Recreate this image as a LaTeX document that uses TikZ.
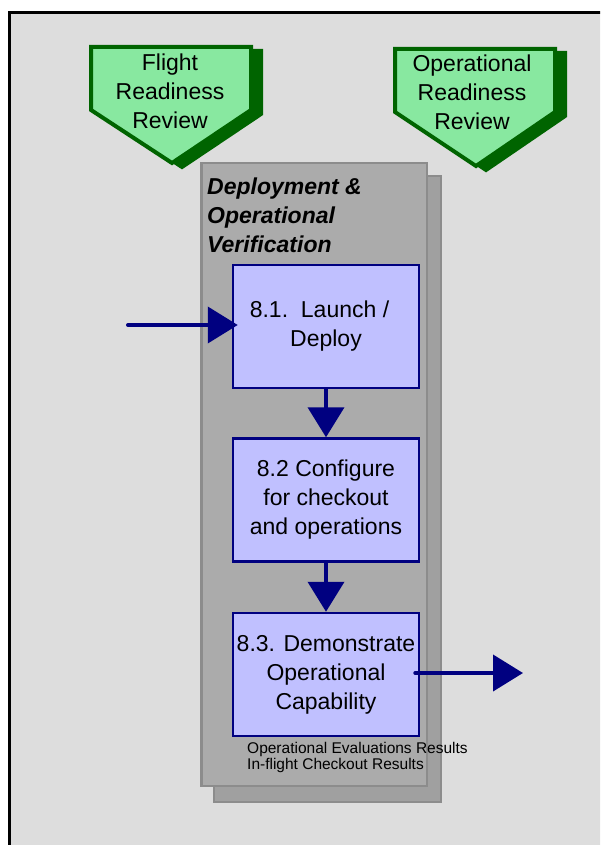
\documentclass[tikz,border=0pt]{standalone}
\usepackage{fontspec}
\setmainfont{Liberation Sans}
\usetikzlibrary{arrows.meta}

\definecolor{pagebg}{HTML}{DDDDDD}
\definecolor{panelgray}{HTML}{ABABAB}
\definecolor{panelshadow}{HTML}{A0A0A0}
\definecolor{paneledge}{HTML}{8C8C8C}
\definecolor{stepfill}{HTML}{C0C0FF}
\definecolor{navy}{HTML}{000080}
\definecolor{gatefill}{HTML}{88E8A0}
\definecolor{gateedge}{HTML}{006400}

\tikzset{
  gate/.style={draw=gateedge, fill=gatefill, line width=4pt, line join=miter},
  gateshadow/.style={draw=gateedge, fill=gateedge, line width=4pt, line join=miter},
  gatetext/.style={inner sep=0pt, align=center, font=\fontsize{23}{29}\selectfont},
  stepbox/.style={draw=navy, fill=stepfill, line width=2.5pt,
    minimum width=186pt, minimum height=123pt, inner sep=0pt,
    align=center, font=\fontsize{23}{29}\selectfont},
  flow/.style={draw=navy, line width=4pt, line cap=round,
    -{Triangle[length=30pt,width=36pt]}},
}

\begin{document}
\begin{tikzpicture}[x=1pt, y=-1pt]
  \useasboundingbox (0,0) rectangle (600,845);
  \clip (0,0) rectangle (600,845);
  \fill[white] (0,0) rectangle (600,845);

  % page frame
  \draw[line width=3pt, fill=pagebg] (9.5,12.5) rectangle (640,880);

  % review gates
  \draw[gateshadow] (101,51) -- (261,51) -- (261,114) -- (182,167) -- (101,114) -- cycle;
  \draw[gate] (91,47) -- (251,47) -- (251,110) -- (172,163) -- (91,110) -- cycle;
  \node[gatetext] (frr) at (170,94) {\strut Flight\\Readiness\\Review\strut};

  \draw[gateshadow] (405,53) -- (565,53) -- (565,116) -- (486,170) -- (405,116) -- cycle;
  \draw[gate] (395,49) -- (555,49) -- (555,112) -- (476,166) -- (395,112) -- cycle;
  \node[gatetext] (orr) at (472,95) {\strut Operational\\Readiness\\Review\strut};

  % process panel
  \draw[fill=panelshadow, draw=paneledge, line width=2pt] (214,176) rectangle (441,802);
  \draw[fill=panelgray, draw=paneledge, line width=2.5pt] (201.25,163.25) rectangle (426.75,785.75);
  \node[inner sep=0pt, anchor=west, align=left,
        font=\fontsize{23}{29}\selectfont\bfseries\itshape] (title) at (207,218)
        {\strut Deployment \&\\Operational\\Verification\strut};

  % steps
  \node[stepbox] (b1) at (326,326.5) {\strut 8.1.\ \ Launch /\hspace{13pt}\mbox{}\\Deploy\strut};
  \node[stepbox] (b2) at (326,500) {\strut 8.2 Configure\\for checkout\\and operations\strut};
  \node[stepbox] (b3) at (326,674.5) {\strut 8.3. Demonstrate\\Operational\\Capability\strut};

  \node[inner sep=0pt, anchor=west, align=left,
        font=\fontsize{15.5}{15}\selectfont] (notes) at (247,758)
        {\strut Operational Evaluations Results\\In-flight Checkout Results\strut};

  % flow arrows
  \coordinate (in) at (128,325);
  \coordinate (out) at (523,673);
  \draw[flow] (in) -- ([xshift=6pt]b1.west |- in);
  \draw[flow] (b1.south) -- (b2.north);
  \draw[flow] (b2.south) -- (b3.north);
  \draw[flow] ([xshift=-5pt]b3.east |- out) -- (out);
\end{tikzpicture}
\end{document}
